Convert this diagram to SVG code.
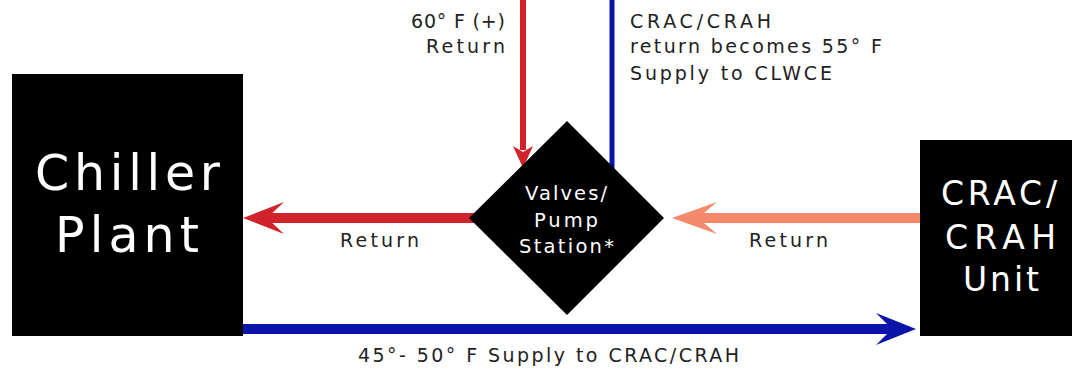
<svg xmlns="http://www.w3.org/2000/svg" width="1072" height="368" viewBox="0 0 1072 368">
<style>
text{font-family:"DejaVu Sans","Liberation Sans",Arial,sans-serif;fill:#222;}
.lbl{font-size:19px;}
.w{fill:#fff;}
.box{fill:#000;}
</style>
<rect width="1072" height="368" fill="#fff"/>
<g id="connectors">
  <line x1="523" y1="0" x2="523" y2="150" stroke="#D0232B" stroke-width="6"/>
  <polygon points="513,146 523,152 533,146 523,168" fill="#D0232B"/>
  <line x1="612" y1="0" x2="612" y2="175" stroke="#0A14A8" stroke-width="5"/>
  <line x1="262" y1="218" x2="480" y2="218" stroke="#D0232B" stroke-width="10"/>
  <polygon points="243,218 284,202 267,218 284,234" fill="#D0232B"/>
  <line x1="692" y1="218" x2="925" y2="218" stroke="#F4896B" stroke-width="10"/>
  <polygon points="672,218 717,202 698,218 717,234" fill="#F4896B"/>
  <line x1="240" y1="329" x2="896" y2="329" stroke="#0A14A8" stroke-width="10"/>
  <polygon points="916,329 876,313 892,329 876,345" fill="#0A14A8"/>
</g>
<g id="chiller">
  <rect class="box" x="12" y="74" width="231" height="262"/>
  <text class="w" x="35" y="190" font-size="49" textLength="185" lengthAdjust="spacing">Chiller</text>
  <text class="w" x="55" y="252" font-size="49" textLength="144" lengthAdjust="spacing">Plant</text>
</g>
<g id="crac">
  <rect class="box" x="920" y="140" width="152" height="196"/>
  <text class="w" x="941" y="205" font-size="33" textLength="116" lengthAdjust="spacing">CRAC/</text>
  <text class="w" x="945" y="249" font-size="33" textLength="111" lengthAdjust="spacing">CRAH</text>
  <text class="w" x="963" y="291" font-size="33" textLength="76" lengthAdjust="spacing">Unit</text>
</g>
<g id="valves">
  <polygon class="box" points="567,121 664,218 567,315 469,218"/>
  <text class="w" x="525" y="200" font-size="19.5" textLength="82" lengthAdjust="spacing">Valves/</text>
  <text class="w" x="534" y="227" font-size="19.5" textLength="64" lengthAdjust="spacing">Pump</text>
  <text class="w" x="519" y="253" font-size="19.5" textLength="95" lengthAdjust="spacing">Station*</text>
</g>
<g id="labels">
  <text class="lbl" x="411" y="28" textLength="94" lengthAdjust="spacing">60° F (+)</text>
  <text class="lbl" x="426" y="53" textLength="79" lengthAdjust="spacing">Return</text>
  <text class="lbl" x="630" y="28" textLength="141" lengthAdjust="spacing">CRAC/CRAH</text>
  <text class="lbl" x="630" y="53" textLength="252" lengthAdjust="spacing">return becomes 55° F</text>
  <text class="lbl" x="630" y="80" textLength="202" lengthAdjust="spacing">Supply to CLWCE</text>
  <text class="lbl" x="340" y="247" textLength="79" lengthAdjust="spacing">Return</text>
  <text class="lbl" x="749" y="247" textLength="79" lengthAdjust="spacing">Return</text>
  <text class="lbl" x="358" y="362" textLength="381" lengthAdjust="spacing">45°- 50° F Supply to CRAC/CRAH</text>
</g>
</svg>
